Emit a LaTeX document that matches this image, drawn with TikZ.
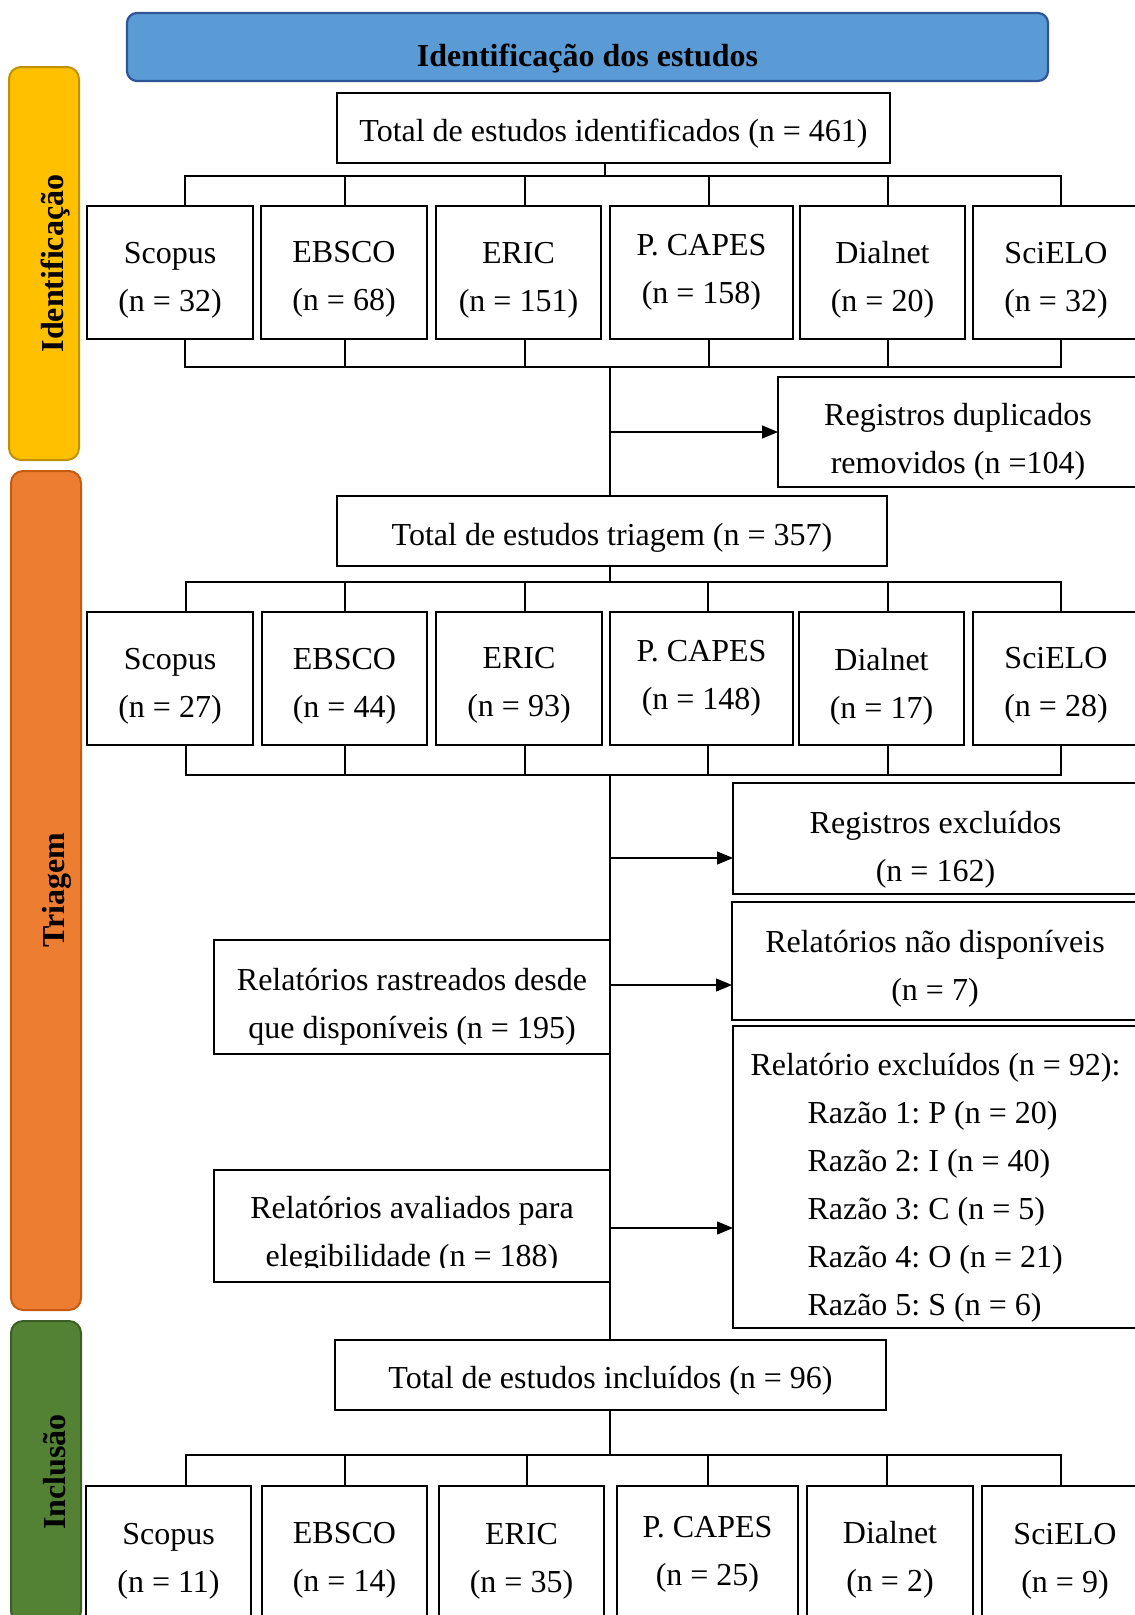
\documentclass[tikz,border=0pt]{standalone}
\usepackage{fontspec}
\setmainfont{Liberation Serif}
\usetikzlibrary{arrows.meta}
\frenchspacing
\definecolor{ttlfill}{HTML}{5B9BD5}
\definecolor{ttlline}{HTML}{2F5597}
\definecolor{yfill}{HTML}{FFC000}
\definecolor{yline}{HTML}{BF9000}
\definecolor{ofill}{HTML}{ED7D31}
\definecolor{oline}{HTML}{C55A11}
\definecolor{gfill}{HTML}{548235}
\definecolor{gline}{HTML}{3B5E24}
\newcommand{\cel}[2][0pt]{\raisebox{-#1}[\height][\depth]{\begin{tabular}{@{}c@{}}#2\end{tabular}}}
\newcommand{\celL}[2][0pt]{\raisebox{-#1}[\height][\depth]{\begin{tabular}{@{}l@{}}#2\end{tabular}}}
\begin{document}
\begin{tikzpicture}[x=1pt,y=-1pt,
  font=\fontsize{32}{48}\selectfont\frenchspacing,
  box/.style={draw=black, line width=2.6pt, inner sep=0pt, outer sep=0pt},
  plain/.style={inner sep=0pt, outer sep=0pt},
  rowa/.style={box, minimum height=133pt},
  rowc/.style={box, minimum height=134pt},
  ln/.style={line width=2.6pt, draw=black},
  arr/.style={line width=1.3pt, draw=black, -{Triangle[length=16pt,width=13pt]}},
  bar/.style={rounded corners=12pt, line width=2pt, inner sep=0pt, rotate=90, minimum height=70pt}]
\useasboundingbox (0,0) rectangle (1135,1615);
\clip (0,0) rectangle (1135,1615);

% title and side bars
\node[box, draw=ttlline, fill=ttlfill, rounded corners=10pt, line width=2.2pt,
      minimum width=921pt, minimum height=68pt] (ttl) at (587.5,47)
      {\cel[9.5pt]{\bfseries Identificação dos estudos}};
\node[bar, draw=yline, fill=yfill, minimum width=393pt] (bid) at (44,263.5)
      {\cel[9.5pt]{\bfseries Identificação}};
\node[bar, draw=oline, fill=ofill, minimum width=839pt] (btr) at (46,890.5)
      {\cel[8.5pt]{\bfseries Triagem}};
\node[bar, draw=gline, fill=gfill, minimum width=302pt] (bin) at (46,1472)
      {\cel[9.5pt]{\bfseries Inclusão}};

% totals
\node[box, minimum width=553pt, minimum height=70pt] (tot1) at (613.5,128)
      {\cel[4pt]{Total de estudos identificados (n = 461)}};
\node[box, minimum width=550pt, minimum height=70pt] (tot2) at (612,531)
      {\cel[4.5pt]{Total de estudos triagem (n = 357)}};
\node[box, minimum width=551pt, minimum height=70pt] (tot3) at (610.5,1375)
      {\cel[4pt]{Total de estudos incluídos (n = 96)}};

% row 1
\node[rowa, minimum width=166pt] (s1) at (170,272.5) {\cel[5pt]{Scopus\\(n = 32)}};
\node[rowa, minimum width=166pt] (e1) at (344,272.5) {\cel[4pt]{EBSCO\\(n = 68)}};
\node[rowa, minimum width=165pt] (r1) at (518.5,272.5) {\cel[5pt]{ERIC\\(n = 151)}};
\node[rowa, minimum width=183pt] (c1) at (701.5,272.5) {\cel[-3pt]{P. CAPES\\(n = 158)}};
\node[rowa, minimum width=165pt] (d1) at (882.5,272.5) {\cel[5pt]{Dialnet\\(n = 20)}};
\node[rowa, minimum width=166pt] (o1) at (1056,272.5) {\cel[5pt]{SciELO\\(n = 32)}};

% row 2
\node[rowa, minimum width=166pt] (s2) at (170,678.5) {\cel[5pt]{Scopus\\(n = 27)}};
\node[rowa, minimum width=165pt] (e2) at (344.5,678.5) {\cel[5pt]{EBSCO\\(n = 44)}};
\node[rowa, minimum width=166pt] (r2) at (519,678.5) {\cel[4pt]{ERIC\\(n = 93)}};
\node[rowa, minimum width=183pt] (c2) at (701.5,678.5) {\cel[-3pt]{P. CAPES\\(n = 148)}};
\node[rowa, minimum width=165pt] (d2) at (881.5,678.5) {\cel[6pt]{Dialnet\\(n = 17)}};
\node[rowa, minimum width=166pt] (o2) at (1056,678.5) {\cel[4pt]{SciELO\\(n = 28)}};

% row 3
\node[rowc, minimum width=165pt] (s3) at (168.5,1553) {\cel[5.5pt]{Scopus\\(n = 11)}};
\node[rowc, minimum width=165pt] (e3) at (344.5,1553) {\cel[5pt]{EBSCO\\(n = 14)}};
\node[rowc, minimum width=165pt] (r3) at (521.5,1553) {\cel[5.5pt]{ERIC\\(n = 35)}};
\node[rowc, minimum width=181pt] (c3) at (707.5,1553) {\cel[-1.5pt]{P. CAPES\\(n = 25)}};
\node[rowc, minimum width=166pt] (d3) at (890,1553) {\cel[5pt]{Dialnet\\(n = 2)}};
\node[rowc, minimum width=166pt] (o3) at (1065,1553) {\cel[5.5pt]{SciELO\\(n = 9)}};

% side boxes
\node[box, minimum width=360pt, minimum height=110pt] (dup) at (958,432)
      {\cel[7.5pt]{Registros duplicados\\removidos (n =104)}};
\node[box, minimum width=405pt, minimum height=111pt] (exc) at (935.5,838.5)
      {\cel[9pt]{Registros excluídos\\(n = 162)}};
\node[box, minimum width=406pt, minimum height=118pt] (nd) at (935,961)
      {\cel[5.5pt]{Relatórios não disponíveis\\(n = 7)}};
\node[box, minimum width=405pt, minimum height=302pt] (rex) at (935.5,1177)
      {\celL[8.5pt]{Relatório excluídos (n = 92):\\
       \hspace*{57pt}Razão 1: P (n = 20)\\
       \hspace*{57pt}Razão 2: I (n = 40)\\
       \hspace*{57pt}Razão 3: C (n = 5)\\
       \hspace*{57pt}Razão 4: O (n = 21)\\
       \hspace*{57pt}Razão 5: S (n = 6)}};
\node[box, minimum width=396pt, minimum height=114pt] (ras) at (412,997)
      {\cel[7.5pt]{Relatórios rastreados desde\\que disponíveis (n = 195)}};
\node[box, minimum width=396pt, minimum height=112pt] (ava) at (412,1226) {};
\begin{scope}
  \clip (214,1170) rectangle (610,1267.5);
  \node[plain] (avat) at (ava.center)
      {\cel[7pt]{Relatórios avaliados para\\elegibilidade (n = 188)}};
\end{scope}

% identification brackets
\draw[ln] (tot1.south -| 605,0) -- (605,176);
\draw[ln] (s1.north -| 185,0) -- (185,176) -- (1061,176) -- (o1.north -| 1061,0);
\draw[ln] (345,176) -- (e1.north -| 345,0);
\draw[ln] (525,176) -- (r1.north -| 525,0);
\draw[ln] (709,176) -- (c1.north -| 709,0);
\draw[ln] (888,176) -- (d1.north -| 888,0);
\draw[ln] (s1.south -| 185,0) -- (185,367) -- (1061,367) -- (o1.south -| 1061,0);
\draw[ln] (e1.south -| 345,0) -- (345,367);
\draw[ln] (r1.south -| 525,0) -- (525,367);
\draw[ln] (c1.south -| 709,0) -- (709,367);
\draw[ln] (d1.south -| 888,0) -- (888,367);
\coordinate (k1) at (610,367);
\draw[ln] (k1) -- (tot2.north -| k1);
\coordinate (a1) at (610,432);
\draw[arr] (a1) -- (dup.west |- a1);

% screening brackets
\draw[ln] (tot2.south -| 610,0) -- (610,582);
\draw[ln] (s2.north -| 186,0) -- (186,582) -- (1061,582) -- (o2.north -| 1061,0);
\draw[ln] (345,582) -- (e2.north -| 345,0);
\draw[ln] (525,582) -- (r2.north -| 525,0);
\draw[ln] (708,582) -- (c2.north -| 708,0);
\draw[ln] (888,582) -- (d2.north -| 888,0);
\draw[ln] (s2.south -| 186,0) -- (186,775) -- (1061,775) -- (o2.south -| 1061,0);
\draw[ln] (e2.south -| 345,0) -- (345,775);
\draw[ln] (r2.south -| 525,0) -- (525,775);
\draw[ln] (c2.south -| 708,0) -- (708,775);
\draw[ln] (d2.south -| 888,0) -- (888,775);
\coordinate (k2) at (610,775);
\draw[ln] (k2) -- (tot3.north -| k2);
\coordinate (a2) at (610,858);
\draw[arr] (a2) -- (exc.west |- a2);
\draw[arr] (ras.east |- 0,985) -- (nd.west |- 0,985);
\draw[arr] (ava.east |- 0,1228) -- (rex.west |- 0,1228);

% inclusion brackets
\draw[ln] (tot3.south -| 610,0) -- (610,1455);
\draw[ln] (s3.north -| 186,0) -- (186,1455) -- (1061,1455) -- (o3.north -| 1061,0);
\draw[ln] (345,1455) -- (e3.north -| 345,0);
\draw[ln] (527,1455) -- (r3.north -| 527,0);
\draw[ln] (708,1455) -- (c3.north -| 708,0);
\draw[ln] (887,1455) -- (d3.north -| 887,0);
\end{tikzpicture}
\end{document}
